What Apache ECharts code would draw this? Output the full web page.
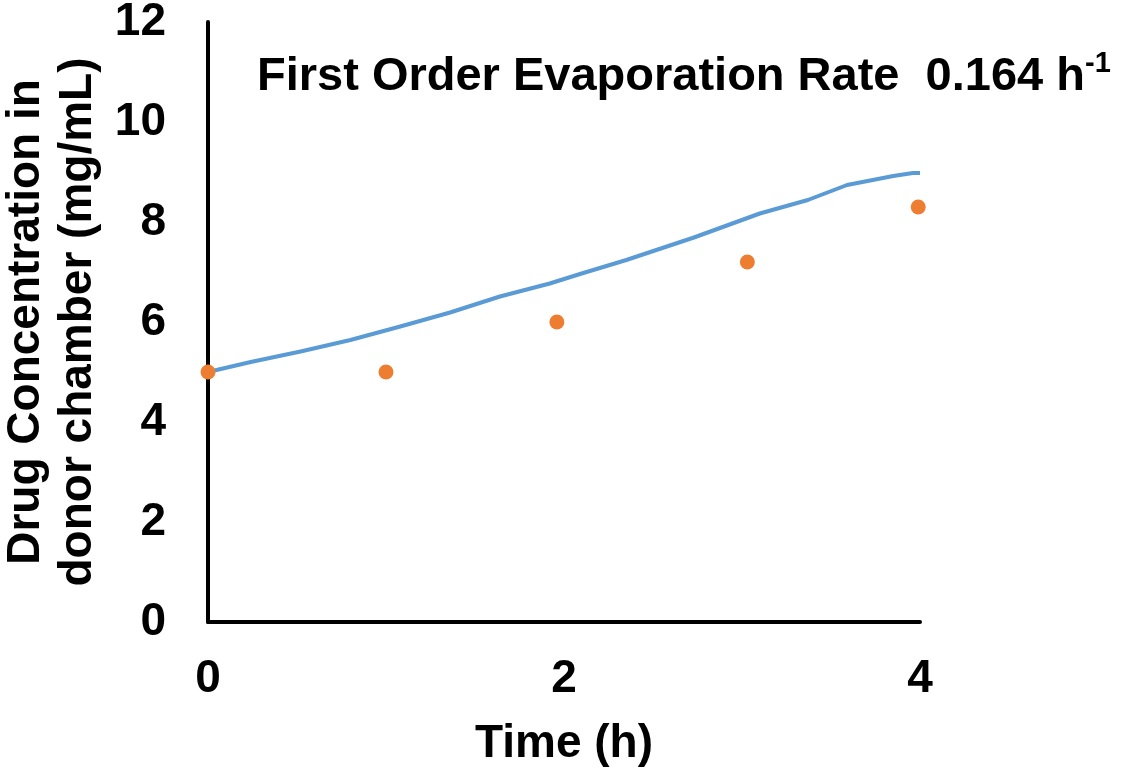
<!DOCTYPE html>
<html>
<head>
<meta charset="utf-8">
<script src="https://cdn.jsdelivr.net/npm/echarts@6/dist/echarts.min.js"></script>
<style>
html,body{margin:0;padding:0;background:#fff;}
#chart{width:1128px;height:770px;}
</style>
</head>
<body>
<div id="chart"></div>
<script>
// Model curve (first-order evaporation fit)
const modelTime = [0, 0.24, 0.52, 0.80, 1.08, 1.36, 1.64, 1.92, 2.09, 2.35, 2.73, 3.10, 3.37, 3.59, 3.85, 3.96, 4.0];
const modelConc = [5.00, 5.20, 5.41, 5.64, 5.91, 6.19, 6.51, 6.77, 6.96, 7.24, 7.69, 8.17, 8.44, 8.74, 8.92, 8.98, 8.98];
// Observed points
const obsTime = [0, 1.0, 1.96, 3.03, 3.99];
const obsConc = [5.0, 5.0, 6.0, 7.2, 8.3];
// Axis ticks
const xTicks = [0, 2, 4];
const yTicks = [0, 2, 4, 6, 8, 10, 12];

const FONT = '"Liberation Sans", Arial, sans-serif';
const chart = echarts.init(document.getElementById('chart'));
chart.setOption({
  animation: false,
  backgroundColor: '#ffffff',
  title: {
    text: '{b|First Order Evaporation Rate  0.164 h}{s|-1}',
    left: 252,
    top: 44,
    textStyle: {
      rich: {
        b: {fontFamily: FONT, fontWeight: 'bold', fontSize: 47, color: '#000', lineHeight: 52, verticalAlign: 'bottom'},
        s: {fontFamily: FONT, fontWeight: 'bold', fontSize: 29, color: '#000', lineHeight: 52, verticalAlign: 'top'}
      }
    }
  },
  grid: {left: 208, right: 208, top: 22, bottom: 148, containLabel: false, outerBoundsMode: 'none'},
  xAxis: {
    type: 'value',
    min: xTicks[0],
    max: xTicks[xTicks.length - 1],
    interval: xTicks[1] - xTicks[0],
    name: 'Time (h)',
    nameLocation: 'middle',
    nameGap: 99,
    nameTextStyle: {fontFamily: FONT, fontWeight: 'bold', fontSize: 46, color: '#000'},
    axisLine: {show: true, lineStyle: {color: '#000', width: 4}},
    axisTick: {show: false},
    splitLine: {show: false},
    axisLabel: {fontFamily: FONT, fontWeight: 'bold', fontSize: 46, color: '#000', margin: 34}
  },
  yAxis: {
    type: 'value',
    min: yTicks[0],
    max: yTicks[yTicks.length - 1],
    interval: yTicks[1] - yTicks[0],
    name: 'Drug Concentration in\ndonor chamber (mg/mL)',
    nameLocation: 'middle',
    nameRotate: 90,
    nameGap: 99,
    nameTextStyle: {fontFamily: FONT, fontWeight: 'bold', fontSize: 46, color: '#000', lineHeight: 52},
    axisLine: {show: true, lineStyle: {color: '#000', width: 4}},
    axisTick: {show: false},
    splitLine: {show: false},
    axisLabel: {fontFamily: FONT, fontWeight: 'bold', fontSize: 46, color: '#000', margin: 42}
  },
  series: [
    {
      type: 'line',
      data: modelTime.map((t, i) => [t, modelConc[i]]),
      showSymbol: false,
      smooth: false,
      lineStyle: {color: '#5B9BD5', width: 4, join: 'round'},
      z: 2
    },
    {
      type: 'scatter',
      data: obsTime.map((t, i) => [t, obsConc[i]]),
      symbol: 'circle',
      symbolSize: 15,
      itemStyle: {color: '#ED7D31', opacity: 1},
      z: 3
    }
  ]
});
</script>
</body>
</html>
